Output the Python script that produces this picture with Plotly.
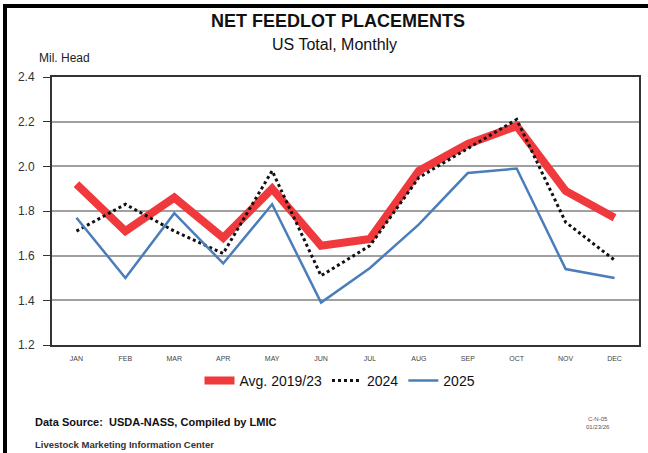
import plotly.graph_objects as go

months = ["JAN", "FEB", "MAR", "APR", "MAY", "JUN", "JUL", "AUG", "SEP", "OCT", "NOV", "DEC"]
avg_2019_23 = [1.92, 1.71, 1.86, 1.68, 1.90, 1.645, 1.675, 1.98, 2.10, 2.18, 1.89, 1.77]
y2024 = [1.71, 1.83, 1.71, 1.61, 1.98, 1.51, 1.645, 1.95, 2.08, 2.21, 1.75, 1.58]
y2025 = [1.77, 1.50, 1.79, 1.565, 1.83, 1.39, 1.545, 1.74, 1.97, 1.99, 1.54, 1.50]
y_ticks = [1.2, 1.4, 1.6, 1.8, 2.0, 2.2, 2.4]
y_tick_text = ["1.2", "1.4", "1.6", "1.8", "2.0", "2.2", "2.4"]

FONT = "Liberation Sans, Arial, sans-serif"

fig = go.Figure()
fig.add_trace(go.Scatter(x=months, y=avg_2019_23, mode="lines", name="Avg. 2019/23",
                         line=dict(color="#f0393c", width=8)))
fig.add_trace(go.Scatter(x=months, y=y2024, mode="lines", name="2024",
                         line=dict(color="#111111", width=3, dash="dot")))
fig.add_trace(go.Scatter(x=months, y=y2025, mode="lines", name="2025",
                         line=dict(color="#4a7ebb", width=2.5)))

W, H = 648, 453
L, R, T, B = 52, 9, 77, 108
pw, ph = W - L - R, H - T - B

def px(x):
    return (x - L) / pw

def py(y):
    return (H - B - y) / ph

annotations = [
    dict(text="<b>NET FEEDLOT PLACEMENTS</b>", x=px(338), y=py(21), font=dict(size=18, color="#111")),
    dict(text="US Total, Monthly", x=px(334), y=py(44), font=dict(size=16, color="#111")),
    dict(text="Mil. Head", x=px(37), y=py(58), xanchor="left", font=dict(size=12, color="#222")),
    dict(text="<b>Data Source:  USDA-NASS, Compiled by LMIC</b>", x=px(33), y=py(422), xanchor="left",
         font=dict(size=11, color="#111")),
    dict(text="<b>Livestock Marketing Information Center</b>", x=px(33), y=py(444), xanchor="left",
         font=dict(size=9.5, color="#333")),
    dict(text="C-N-05<br>01/23/26", x=px(598), y=py(423), font=dict(size=6, color="#555")),
]
for a in annotations:
    a.setdefault("xanchor", "center")
    a.update(xref="paper", yref="paper", yanchor="middle", showarrow=False, font_family=FONT)

fig.update_layout(
    width=W, height=H,
    margin=dict(l=L, r=R, t=T, b=B, autoexpand=False),
    paper_bgcolor="white", plot_bgcolor="white",
    font=dict(family=FONT, color="#222"),
    showlegend=True,
    legend=dict(orientation="h", x=px(340), xanchor="center", y=py(381), yanchor="middle",
                font=dict(size=14, color="#111"), itemwidth=30, tracegroupgap=0,
                bgcolor="rgba(0,0,0,0)"),
    annotations=annotations,
)
fig.update_xaxes(showgrid=False, showline=True, linecolor="#333", linewidth=2, mirror=True,
                 ticks="", tickfont=dict(size=7, color="#444"), range=[-0.5, 11.5],
                 ticklabelstandoff=6)
fig.update_yaxes(range=[1.2, 2.4], tickvals=y_ticks, ticktext=y_tick_text,
                 showgrid=True, gridcolor="#a0a0a0", gridwidth=1.5,
                 showline=True, linecolor="#333", linewidth=2, mirror=True,
                 ticks="outside", ticklen=7, tickcolor="#333", tickwidth=1,
                 tickfont=dict(size=12, color="#333"), zeroline=False, ticklabelstandoff=6)

frame_js = (
    "document.body.style.margin='0';"
    "var d=document.createElement('div');"
    "d.style.cssText='position:absolute;left:3px;top:4px;width:2000px;height:2000px;"
    "border-left:4px solid #000;border-top:4px solid #000;pointer-events:none;z-index:10;';"
    "document.body.appendChild(d);"
    "document.body.style.overflow='hidden';"
)
fig.write_html("out.html", config={"displayModeBar": False}, post_script=frame_js)
